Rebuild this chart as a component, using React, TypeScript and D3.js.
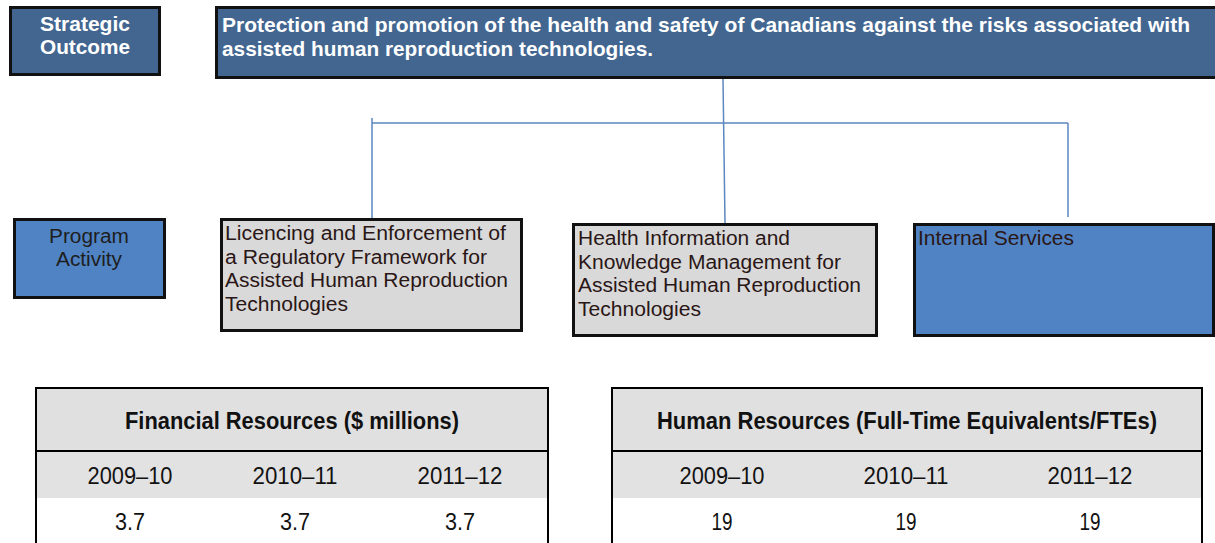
import React from "react";
import * as d3 from "d3";

// ---- data ----
const strategicLabel = ["Strategic", "Outcome"];
const outcomeText = [
  "Protection and promotion of the health and safety of Canadians against the risks associated with",
  "assisted human reproduction technologies.",
];
const programLabel = ["Program", "Activity"];
const activities = [
  ["Licencing and Enforcement of", "a Regulatory Framework for", "Assisted Human Reproduction", "Technologies"],
  ["Health Information and", "Knowledge Management for", "Assisted Human Reproduction", "Technologies"],
  ["Internal Services"],
];
const years = ["2009–10", "2010–11", "2011–12"];
const financialValues = [3.7, 3.7, 3.7];
const fteValues = [19, 19, 19];
const financialTitle = "Financial Resources ($ millions)";
const humanTitle = "Human Resources (Full-Time Equivalents/FTEs)";

// ---- layout ----
const W = 1215, H = 543;
const SANS = "'Liberation Sans', Arial, sans-serif";
const darkBlue = "#426690";
const midBlue = "#4f83c4";
const grayBox = "#d9d9d9";
const lineBlue = "#5b86c0";

const actBoxes = [
  { x: 220, y: 218, w: 303, h: 114, fill: grayBox, tx: 225, widths: [281, 262, 283, 123] },
  { x: 572, y: 223, w: 306, h: 114, fill: grayBox, tx: 578, widths: [212, 263, 283, 123] },
  { x: 913, y: 223, w: 302, h: 114, fill: midBlue, tx: 918, widths: [156] },
];
const actLineY = d3.scaleLinear().domain([0, 1]).range([0, 23.5]);

function Table({ x0, x1, title, titleW, values, fmt, valW, range }: any) {
  const xs = d3.scalePoint<string>().domain(years).range(range);
  const top = 388, hb = 451, yb = 498;
  const cx = (x0 + x1) / 2;
  return (
    <g>
      <rect x={x0} y={top} width={x1 - x0} height={hb - top} fill="#e0e0e0" />
      <rect x={x0} y={hb} width={x1 - x0} height={yb - hb} fill="#e2e2e2" />
      <rect x={x0} y={yb} width={x1 - x0} height={H - yb} fill="#ffffff" />
      <line x1={x0} x2={x1} y1={top} y2={top} stroke="#000" strokeWidth={2} />
      <line x1={x0} x2={x1} y1={hb} y2={hb} stroke="#000" strokeWidth={2} />
      <line x1={x0} x2={x0} y1={top - 1} y2={H} stroke="#000" strokeWidth={2} />
      <line x1={x1} x2={x1} y1={top - 1} y2={H} stroke="#000" strokeWidth={2} />
      <text x={cx} y={429} textAnchor="middle" fontFamily={SANS} fontWeight="bold" fontSize={23}
        fill="#111" textLength={titleW} lengthAdjust="spacingAndGlyphs">{title}</text>
      {years.map((yr) => (
        <text key={yr} x={xs(yr)} y={484} textAnchor="middle" fontFamily={SANS} fontSize={23}
          fill="#111" textLength={85} lengthAdjust="spacingAndGlyphs">{yr}</text>
      ))}
      {values.map((v: number, i: number) => (
        <text key={i} x={xs(years[i])} y={530} textAnchor="middle" fontFamily={SANS} fontSize={23}
          fill="#111" textLength={valW} lengthAdjust="spacingAndGlyphs">{fmt(v)}</text>
      ))}
    </g>
  );
}

export default function App() {
  const hY = 123;
  return (
    <svg width={W} height={H} style={{ position: "absolute", left: 0, top: 0, background: "#fff" }}>
      {/* Strategic outcome label box */}
      <rect x={10.5} y={7.5} width={149} height={67} fill={darkBlue} stroke="#111" strokeWidth={3} />
      {strategicLabel.map((t, i) => (
        <text key={t} x={85} y={31 + i * 23} textAnchor="middle" fontFamily={SANS} fontWeight="bold"
          fontSize={20.5} fill="#fff" textLength={90} lengthAdjust="spacingAndGlyphs">{t}</text>
      ))}
      {/* Outcome box */}
      <rect x={216.5} y={7.5} width={1010} height={70} fill={darkBlue} stroke="#111" strokeWidth={3} />
      {outcomeText.map((t, i) => (
        <text key={i} x={222} y={32 + i * 24} fontFamily={SANS} fontWeight="bold" fontSize={20.5}
          fill="#fff" textLength={i === 0 ? 968 : 431} lengthAdjust="spacingAndGlyphs">{t}</text>
      ))}

      {/* connectors */}
      <line x1={723} y1={79} x2={725} y2={223} stroke={lineBlue} strokeWidth={1.5} />
      <line x1={372} y1={hY} x2={1068} y2={hY} stroke={lineBlue} strokeWidth={1.5} />
      <line x1={372} y1={118} x2={372} y2={218} stroke={lineBlue} strokeWidth={1.5} />
      <line x1={1068} y1={hY} x2={1068} y2={217} stroke={lineBlue} strokeWidth={1.5} />

      {/* Program activity label */}
      <rect x={14.5} y={219.5} width={150} height={78} fill={midBlue} stroke="#111" strokeWidth={3} />
      {programLabel.map((t, i) => (
        <text key={t} x={89} y={243 + i * 23} textAnchor="middle" fontFamily={SANS} fontSize={20}
          fill="#1e1e1e" textLength={i === 0 ? 80 : 66} lengthAdjust="spacingAndGlyphs">{t}</text>
      ))}

      {actBoxes.map((b, bi) => (
        <g key={bi}>
          <rect x={b.x + 1.5} y={b.y + 1.5} width={b.w - 3} height={b.h - 3} fill={b.fill}
            stroke="#111" strokeWidth={3} />
          {activities[bi].map((t, i) => (
            <text key={i} x={b.tx} y={b.y + 22 + actLineY(i)} fontFamily={SANS} fontSize={20}
              fill="#2a1616" textLength={b.widths[i]} lengthAdjust="spacingAndGlyphs">{t}</text>
          ))}
        </g>
      ))}

      <Table x0={36} x1={548} title={financialTitle} titleW={334} values={financialValues}
        fmt={(v: number) => v.toFixed(1)} valW={30} range={[130, 460]} />
      <Table x0={612} x1={1202} title={humanTitle} titleW={500} values={fteValues}
        fmt={(v: number) => String(v)} valW={21} range={[722, 1090]} />
    </svg>
  );
}
